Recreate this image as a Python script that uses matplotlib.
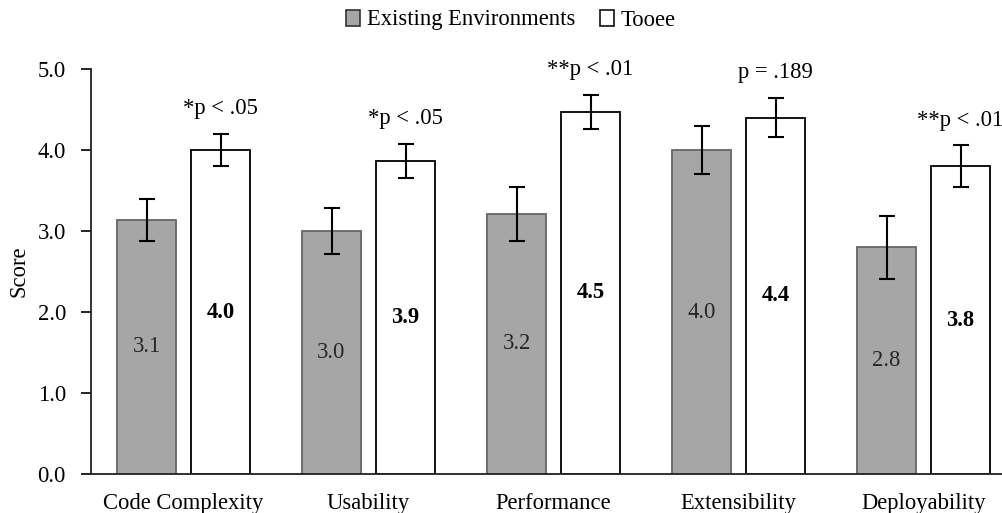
import matplotlib
matplotlib.use("Agg")
import matplotlib.pyplot as plt
import numpy as np
from matplotlib.patches import Patch

categories = ["Code Complexity", "Usability", "Performance", "Extensibility", "Deployability"]
existing = [3.14, 3.0, 3.21, 4.0, 2.8]
existing_err = [0.26, 0.28, 0.33, 0.30, 0.39]
tooee = [4.0, 3.87, 4.47, 4.40, 3.80]
tooee_err = [0.20, 0.21, 0.21, 0.245, 0.26]
existing_labels = ["3.1", "3.0", "3.2", "4.0", "2.8"]
tooee_labels = ["4.0", "3.9", "4.5", "4.4", "3.8"]
p_labels = ["*p < .05", "*p < .05", "**p < .01", "p = .189", "**p < .01"]
yticks = [0.0, 1.0, 2.0, 3.0, 4.0, 5.0]

plt.rcParams['font.family'] = ['Liberation Serif', 'DejaVu Serif']

W, H = 1002, 513
fig = plt.figure(figsize=(W/100, H/100), dpi=100)
left = 91 / W
right = 1016 / W
bottom = 1 - 474 / H
top = 1 - 69 / H
ax = fig.add_axes([left, bottom, right - left, top - bottom])

FS = 16.3
x = np.arange(len(categories))
bw = 0.32
off = 0.2
grey = "#A6A6A6"
ax.bar(x - off, existing, bw, color=grey, edgecolor="#666666", linewidth=1.3, zorder=2)
ax.bar(x + off, tooee, bw, color="white", edgecolor="black", linewidth=1.3, zorder=2)
ax.errorbar(x - off, existing, yerr=existing_err, fmt="none", ecolor="black",
            elinewidth=1.5, capsize=5.5, capthick=1.5, zorder=3)
ax.errorbar(x + off, tooee, yerr=tooee_err, fmt="none", ecolor="black",
            elinewidth=1.5, capsize=5.5, capthick=1.5, zorder=3)

for i in range(len(categories)):
    ax.text(x[i] - off, existing[i] / 2, existing_labels[i], ha="center", va="center",
            fontsize=FS, color="#262626", zorder=4)
    ax.text(x[i] + off, tooee[i] / 2, tooee_labels[i], ha="center", va="center",
            fontsize=FS, fontweight="bold", color="black", zorder=4)
    ax.text(x[i] + off, tooee[i] + tooee_err[i] + 0.31, p_labels[i], ha="center",
            va="center", fontsize=FS, color="black", zorder=4)

ax.set_xlim(-0.5, len(categories) - 0.5)
ax.set_ylim(0, 5)
ax.set_yticks(yticks)
ax.set_yticklabels([f"{v:.1f}" for v in yticks], fontsize=FS)
ax.set_xticks(x)
ax.set_xticklabels(categories, fontsize=FS)
ax.tick_params(axis="x", length=0, pad=14)
ax.tick_params(axis="y", length=7, width=1.2, direction="out", pad=11)
ax.set_ylabel("Score", fontsize=FS)
ax.yaxis.set_label_coords(-(91 - 29) / (1016 - 91), 0.5)
for s in ["top", "right"]:
    ax.spines[s].set_visible(False)
ax.spines["left"].set_linewidth(1.3)
ax.spines["bottom"].set_linewidth(1.3)
ax.spines["left"].set_color("#222222")
ax.spines["bottom"].set_color("#222222")

handles = [Patch(facecolor=grey, edgecolor="#333333", linewidth=1.2, label="Existing Environments"),
           Patch(facecolor="white", edgecolor="#111111", linewidth=1.2, label="Tooee")]
fig.legend(handles=handles, loc="center", bbox_to_anchor=(511 / W, 1 - 20 / H), ncol=2,
           frameon=False, fontsize=FS, handlelength=0.62, handleheight=0.7,
           handletextpad=0.3, columnspacing=1.1)

fig.savefig("out.png", dpi=100)
